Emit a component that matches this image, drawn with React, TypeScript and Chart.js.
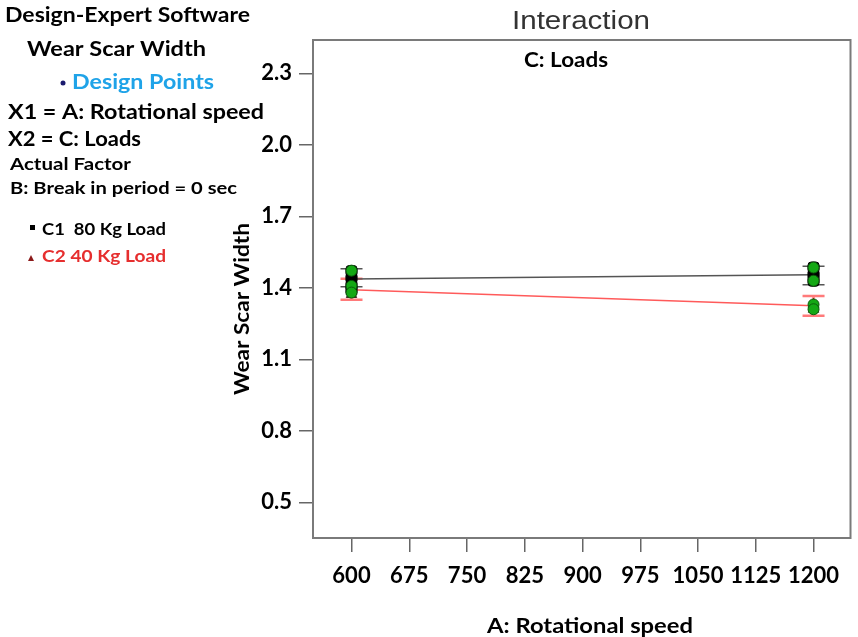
import React, { useEffect, useRef } from "react";
import { Chart, registerables } from "chart.js";

Chart.register(...registerables);

const speedLevels = [600, 1200];
const xTickValues = [600, 675, 750, 825, 900, 975, 1050, 1125, 1200];
const yTickValues = [0.5, 0.8, 1.1, 1.4, 1.7, 2.0, 2.3];

const c1Predicted = [1.437, 1.455];
const c2Predicted = [1.392, 1.325];
const c1LsdHigh = [1.48, 1.49];
const c1LsdLow = [1.404, 1.413];
const c2LsdHigh = [1.438, 1.366];
const c2LsdLow = [1.35, 1.283];

const c1DesignAt600 = [1.47, 1.44, 1.41, 1.39];
const c1DesignAt1200 = [1.485, 1.455, 1.43];
const c2DesignAt600 = [1.385, 1.372];
const c2DesignAt1200 = [1.33, 1.31];
const greenAt600 = [1.472, 1.408, 1.38];
const greenAt1200 = [1.485, 1.43, 1.33, 1.31];

const FONT = "Lato, 'Open Sans', sans-serif";

function pts(x: number, ys: number[]) {
  return ys.map((y) => ({ x, y }));
}

// draw text stretched horizontally to a given width (left edge at x)
function fitText(ctx: any, text: string, left: number, y: number, width: number) {
  const w = ctx.measureText(text).width;
  ctx.save();
  ctx.textAlign = "left";
  ctx.translate(left, y);
  ctx.scale(width / w, 1);
  ctx.fillText(text, 0, 0);
  ctx.restore();
}

const lsdPlugin = {
  id: "lsdBars",
  beforeDatasetsDraw(chart: any) {
    const { ctx, scales } = chart;
    const xs = scales.x;
    const ys = scales.y;
    const draw = (hi: number[], lo: number[], color: string, w: number) => {
      ctx.save();
      ctx.strokeStyle = color;
      ctx.lineWidth = w;
      speedLevels.forEach((sp, i) => {
        const px = xs.getPixelForValue(sp);
        const top = ys.getPixelForValue(hi[i]);
        const bot = ys.getPixelForValue(lo[i]);
        ctx.beginPath();
        ctx.moveTo(px, top);
        ctx.lineTo(px, bot);
        ctx.moveTo(px - 11, top);
        ctx.lineTo(px + 11, top);
        ctx.moveTo(px - 11, bot);
        ctx.lineTo(px + 11, bot);
        ctx.stroke();
      });
      ctx.restore();
    };
    draw(c2LsdHigh, c2LsdLow, "#ff7a7a", 2.5);
    draw(c1LsdHigh, c1LsdLow, "#555555", 1.5);
  },
};

const decorPlugin = {
  id: "decor",
  afterDraw(chart: any) {
    const { ctx, chartArea } = chart;
    ctx.save();
    ctx.strokeStyle = "#7a7a7a";
    ctx.lineWidth = 2;
    ctx.strokeRect(chartArea.left, chartArea.top, chartArea.right - chartArea.left, chartArea.bottom - chartArea.top);

    ctx.textBaseline = "middle";
    ctx.fillStyle = "#000";
    ctx.font = `bold 21px ${FONT}`;
    fitText(ctx, "Design-Expert Software", 5, 15, 245);
    fitText(ctx, "Wear Scar Width", 27, 49, 179);
    ctx.fillStyle = "#1a1a6e";
    ctx.beginPath();
    ctx.arc(63, 83, 2.5, 0, Math.PI * 2);
    ctx.fill();
    ctx.fillStyle = "#1fa3e8";
    fitText(ctx, "Design Points", 72, 82, 142);
    ctx.fillStyle = "#000";
    fitText(ctx, "X1 = A: Rotational speed", 8, 112, 256);
    fitText(ctx, "X2 = C: Loads", 8, 139, 133);
    ctx.font = `bold 17px ${FONT}`;
    fitText(ctx, "Actual Factor", 10, 165, 121);
    fitText(ctx, "B: Break in period = 0 sec", 10, 189, 227);
    ctx.fillRect(30, 225, 5, 5);
    fitText(ctx, "C1  80 Kg Load", 42, 230, 124);
    ctx.fillStyle = "#8b1a1a";
    ctx.beginPath();
    ctx.moveTo(31, 255);
    ctx.lineTo(34, 261);
    ctx.lineTo(28, 261);
    ctx.closePath();
    ctx.fill();
    ctx.fillStyle = "#e62e2e";
    fitText(ctx, "C2 40 Kg Load", 42, 257, 124);

    ctx.fillStyle = "#333";
    ctx.font = `26px 'Liberation Sans', Arial, sans-serif`;
    fitText(ctx, "Interaction", 512, 22, 138);
    ctx.fillStyle = "#000";
    ctx.font = `bold 20px ${FONT}`;
    fitText(ctx, "C: Loads", 524, 61, 84);
    ctx.font = `bold 21px ${FONT}`;
    fitText(ctx, "A: Rotational speed", 487, 626, 206);
    ctx.translate(242, 309);
    ctx.rotate(-Math.PI / 2);
    fitText(ctx, "Wear Scar Width", -86, 0, 172);
    ctx.restore();
  },
};

export default function App() {
  const ref = useRef<HTMLCanvasElement | null>(null);
  useEffect(() => {
    document.body.style.margin = "0";
    const canvas = ref.current;
    if (!canvas) return;
    const chart = new Chart(canvas, {
      type: "scatter",
      data: {
        datasets: [
          {
            label: "Design Points",
            data: [...pts(600, greenAt600), ...pts(1200, greenAt1200)],
            pointStyle: "circle",
            pointRadius: 5.5,
            backgroundColor: "#14a814",
            borderColor: "#0b5a0b",
            borderWidth: 1,
            order: 0,
          },
          {
            label: "C1 design",
            data: [...pts(600, c1DesignAt600), ...pts(1200, c1DesignAt1200)],
            pointStyle: "rectRounded",
            pointRadius: 6.5,
            backgroundColor: "#000",
            borderColor: "#000",
            order: 1,
          },
          {
            label: "C2 design",
            data: [...pts(600, c2DesignAt600), ...pts(1200, c2DesignAt1200)],
            pointStyle: "triangle",
            pointRadius: 6,
            backgroundColor: "#3a2a1a",
            borderColor: "#3a2a1a",
            order: 2,
          },
          {
            label: "C1 80 Kg Load",
            data: speedLevels.map((x, i) => ({ x, y: c1Predicted[i] })),
            showLine: true,
            borderColor: "#555555",
            borderWidth: 1.5,
            pointRadius: 0,
            order: 3,
          },
          {
            label: "C2 40 Kg Load",
            data: speedLevels.map((x, i) => ({ x, y: c2Predicted[i] })),
            showLine: true,
            borderColor: "#ff5a5a",
            borderWidth: 1.5,
            pointRadius: 0,
            order: 4,
          },
        ],
      },
      options: {
        animation: false,
        responsive: true,
        maintainAspectRatio: false,
        layout: { padding: { top: 40, right: 5, left: 0, bottom: 0 } },
        plugins: { legend: { display: false }, tooltip: { enabled: false } },
        scales: {
          x: {
            type: "linear",
            min: 550,
            max: 1248,
            afterBuildTicks: (s: any) => {
              s.ticks = xTickValues.map((v) => ({ value: v }));
            },
            afterFit: (s: any) => {
              s.height = 99;
            },
            grid: { display: true, drawOnChartArea: false, tickLength: 14, color: "#666", lineWidth: 1.5 },
            border: { display: false },
            ticks: {
              color: "#000",
              padding: 11,
              maxRotation: 0,
              autoSkip: false,
              font: { family: FONT, size: 22, weight: "bold" },
              callback: (v: any) => String(v),
            },
          },
          y: {
            type: "linear",
            min: 0.35,
            max: 2.44,
            afterBuildTicks: (s: any) => {
              s.ticks = yTickValues.map((v) => ({ value: v }));
            },
            afterFit: (s: any) => {
              s.width = 313;
            },
            grid: { display: true, drawOnChartArea: false, tickLength: 14, color: "#666", lineWidth: 1.5 },
            border: { display: false },
            ticks: {
              color: "#000",
              padding: 7,
              autoSkip: false,
              font: { family: FONT, size: 22, weight: "bold" },
              callback: (v: any) => Number(v).toFixed(1),
            },
          },
        },
      },
      plugins: [lsdPlugin, decorPlugin],
    });
    return () => chart.destroy();
  }, []);
  return (
    <div style={{ position: "fixed", left: 0, top: 0, width: 858, height: 637, background: "#fff" }}>
      <canvas ref={ref} />
    </div>
  );
}
